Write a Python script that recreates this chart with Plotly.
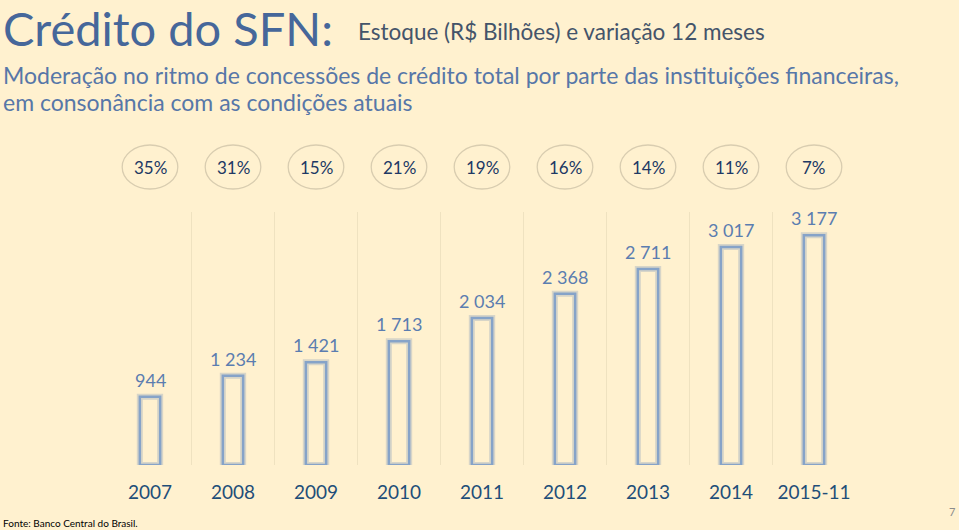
import plotly.graph_objects as go

categories = ["2007", "2008", "2009", "2010", "2011", "2012", "2013", "2014", "2015-11"]
stock_values = [944, 1234, 1421, 1713, 2034, 2368, 2711, 3017, 3177]
stock_labels = ["944", "1 234", "1 421", "1 713", "2 034", "2 368", "2 711", "3 017", "3 177"]
growth_labels = ["35%", "31%", "15%", "21%", "19%", "16%", "14%", "11%", "7%"]

BG = "#FFF1CF"
FONT = "Lato, 'Open Sans', sans-serif"
W, H = 959, 530

fig = go.Figure()
# glow under bars
fig.add_trace(go.Bar(
    x=categories, y=stock_values, width=0.245,
    marker=dict(color="rgba(0,0,0,0)", line=dict(color="rgba(140,160,185,0.35)", width=6)),
    hoverinfo="skip", showlegend=False))
fig.add_trace(go.Bar(
    x=categories, y=stock_values, width=0.245,
    marker=dict(color="rgba(0,0,0,0)", line=dict(color="#86A3C8", width=2.5)),
    showlegend=False))

# vertical separators
shapes = []
for i in range(len(categories) - 1):
    shapes.append(dict(type="line", xref="x", yref="y", x0=i + 0.5, x1=i + 0.5, y0=0, y1=3500,
                       line=dict(color="#EFE2C0", width=1), layer="below"))

annotations = []
# bar value labels
for i, (v, lab) in enumerate(zip(stock_values, stock_labels)):
    annotations.append(dict(x=i, y=v, xref="x", yref="y", text=lab, showarrow=False,
                            yanchor="bottom", yshift=4,
                            font=dict(family=FONT, size=18, color="#5B7DB0")))

# growth ellipses
ey0, ey1 = 1 - 189 / H, 1 - 145 / H
for i, g in enumerate(growth_labels):
    shapes.append(dict(type="circle", xref="x", yref="paper", x0=i - 0.335, x1=i + 0.335,
                       y0=ey0, y1=ey1, line=dict(color="#D9CDB0", width=1.3)))
    annotations.append(dict(x=i, y=1 - 167 / H, xref="x", yref="paper", text=g,
                            showarrow=False, yanchor="middle",
                            font=dict(family=FONT, size=17, color="#203864")))

# titles
annotations += [
    dict(x=1 / W, y=1 - 28 / H, xref="paper", yref="paper", xanchor="left", yanchor="middle",
         text="Crédito do SFN:", showarrow=False,
         font=dict(family=FONT, size=47, color="#46679A")),
    dict(x=356 / W, y=1 - 32 / H, xref="paper", yref="paper", xanchor="left", yanchor="middle",
         text="Estoque (R$ Bilhões) e variação 12 meses", showarrow=False,
         font=dict(family=FONT, size=22.5, color="#44546A")),
    dict(x=1 / W, y=1 - 75 / H, xref="paper", yref="paper", xanchor="left", yanchor="middle",
         text="Moderação no ritmo de concessões de crédito total por parte das instituições financeiras,",
         showarrow=False, font=dict(family=FONT, size=23, color="#5777A8")),
    dict(x=1 / W, y=1 - 102 / H, xref="paper", yref="paper", xanchor="left", yanchor="middle",
         text="em consonância com as condições atuais",
         showarrow=False, font=dict(family=FONT, size=23, color="#5777A8")),
    dict(x=1 / W, y=1 - 523 / H, xref="paper", yref="paper", xanchor="left", yanchor="middle",
         text="Fonte: Banco Central do Brasil.", showarrow=False,
         font=dict(family=FONT, size=10, color="#000000")),
    dict(x=952 / W, y=1 - 511 / H, xref="paper", yref="paper", xanchor="center", yanchor="middle",
         text="7", showarrow=False, font=dict(family=FONT, size=11, color="#8C8C8C")),
]

fig.update_layout(
    width=W, height=H, paper_bgcolor=BG, plot_bgcolor=BG,
    margin=dict(l=0, r=0, t=0, b=0), barmode="overlay",
    shapes=shapes, annotations=annotations,
    xaxis=dict(domain=[108.5 / W, 855.5 / W], range=[-0.5, 8.5], showgrid=False, zeroline=False,
               showline=False, ticks="", ticklabelstandoff=14,
               tickfont=dict(family=FONT, size=19, color="#1F4E79")),
    yaxis=dict(domain=[1 - 465 / H, 1 - 212 / H], range=[0, 3500], visible=False),
    font=dict(family=FONT),
)

fig.write_html("out.html", config={"displayModeBar": False},
               post_script="document.body.style.margin='0';document.body.style.overflow='hidden';")
